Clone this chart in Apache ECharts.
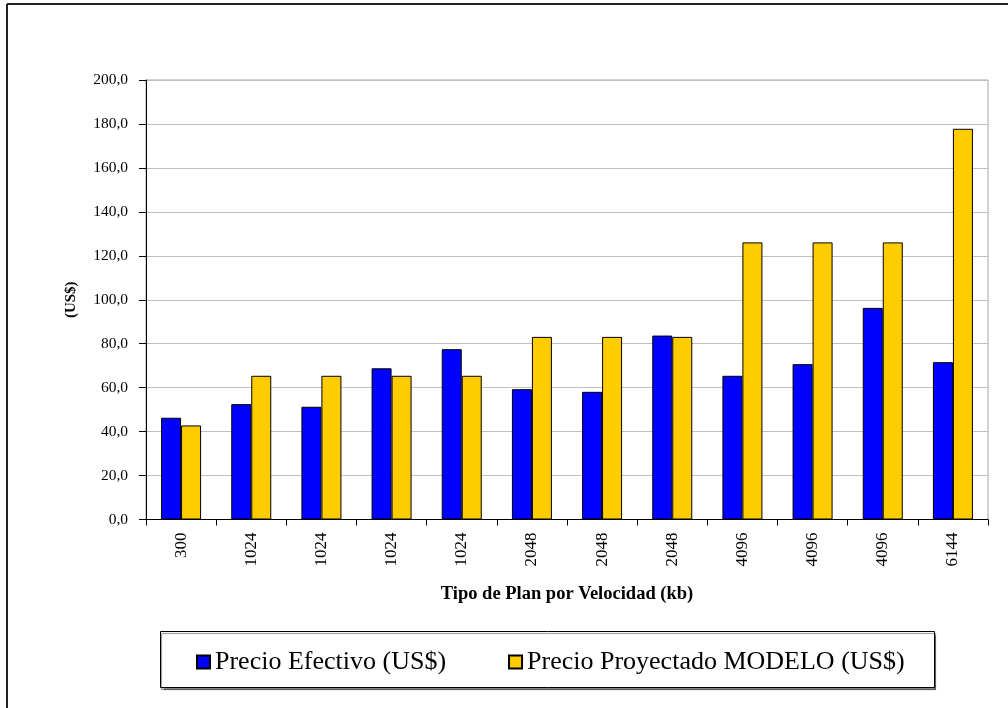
<!DOCTYPE html>
<html>
<head>
<meta charset="utf-8">
<style>
  html, body { margin: 0; padding: 0; background: #fff; }
  #chart { width: 1008px; height: 708px; }
</style>
<script src="https://cdn.jsdelivr.net/npm/echarts@6/dist/echarts.min.js"></script>
</head>
<body>
<div id="chart"></div>
<script>
// Plan speeds (kb) along the category axis
const planSpeeds = ['300', '1024', '1024', '1024', '1024', '2048', '2048', '2048', '4096', '4096', '4096', '6144'];
// Effective price per plan (US$)
const precioEfectivo = [46.3, 52.5, 51.3, 68.8, 77.5, 59.3, 58.1, 83.7, 65.4, 70.7, 96.3, 71.6];
// Price projected by the model (US$)
const precioModelo = [42.8, 65.4, 65.4, 65.4, 65.4, 83.1, 83.1, 83.1, 126.1, 126.1, 126.1, 177.8];
// Value axis range and step
const yMin = 0, yMax = 200, yStep = 20;

const serif = '"Liberation Serif", "DejaVu Serif", serif';
const chart = echarts.init(document.getElementById('chart'), null, { renderer: 'canvas' });

chart.setOption({
  backgroundColor: '#ffffff',
  animation: false,
  textStyle: { fontFamily: serif, color: '#000' },
  grid: {
    left: 146, right: 20, top: 80, bottom: 188.5,
    show: true, borderColor: '#a6a6a6', borderWidth: 1, backgroundColor: 'transparent'
  },
  legend: {
    left: 191, top: 644,
    itemWidth: 13, itemHeight: 13, itemGap: 62,
    icon: 'rect',
    textStyle: { fontFamily: serif, fontSize: 26, color: '#000' },
    data: ['Precio Efectivo (US$)', 'Precio Proyectado MODELO (US$)']
  },
  xAxis: {
    type: 'category',
    data: planSpeeds,
    name: 'Tipo de Plan por Velocidad (kb)',
    nameLocation: 'middle',
    nameGap: 65,
    nameTextStyle: { fontFamily: serif, fontWeight: 'bold', fontSize: 18.5, color: '#000' },
    axisLine: { lineStyle: { color: '#000', width: 1 } },
    axisTick: { show: true, alignWithLabel: false, length: 6, lineStyle: { color: '#000' } },
    axisLabel: { rotate: 90, margin: 13, fontSize: 17, color: '#000', fontFamily: serif, interval: 0 }
  },
  yAxis: {
    type: 'value',
    min: yMin, max: yMax, interval: yStep,
    name: '(US$)',
    nameLocation: 'middle',
    nameGap: 67,
    nameRotate: 90,
    nameTextStyle: { fontFamily: serif, fontWeight: 'bold', fontSize: 15, color: '#000' },
    axisLine: { show: true, lineStyle: { color: '#000', width: 1 } },
    axisTick: { show: true, length: 7, lineStyle: { color: '#000' } },
    axisLabel: {
      margin: 18, fontSize: 15.5, color: '#000', fontFamily: serif,
      formatter: v => v.toFixed(1).replace('.', ',')
    },
    splitLine: { show: true, lineStyle: { color: '#c0c0c0', width: 1 } }
  },
  series: [
    {
      name: 'Precio Efectivo (US$)',
      type: 'bar',
      data: precioEfectivo,
      barWidth: 20,
      barGap: '0%',
      itemStyle: { color: '#0000ff', borderColor: '#000', borderWidth: 1 }
    },
    {
      name: 'Precio Proyectado MODELO (US$)',
      type: 'bar',
      data: precioModelo,
      barWidth: 20,
      barGap: '0%',
      itemStyle: { color: '#ffcc00', borderColor: '#000', borderWidth: 1 }
    }
  ],
  graphic: [
    // outer frame (top and left edges)
    { type: 'line', shape: { x1: 7, y1: 4, x2: 1008, y2: 4 }, style: { stroke: '#222', lineWidth: 2 }, z: 10 },
    { type: 'line', shape: { x1: 7, y1: 4, x2: 7, y2: 708 }, style: { stroke: '#222', lineWidth: 2 }, z: 10 },
    // legend box with a soft drop shadow
    {
      type: 'rect', z: -1,
      shape: { x: 160.5, y: 631.5, width: 774, height: 56 },
      style: {
        fill: '#fff', stroke: '#000', lineWidth: 1,
        shadowColor: 'rgba(0,0,0,0.45)', shadowOffsetX: 1, shadowOffsetY: 2, shadowBlur: 1
      }
    }
  ]
});
</script>
</body>
</html>
